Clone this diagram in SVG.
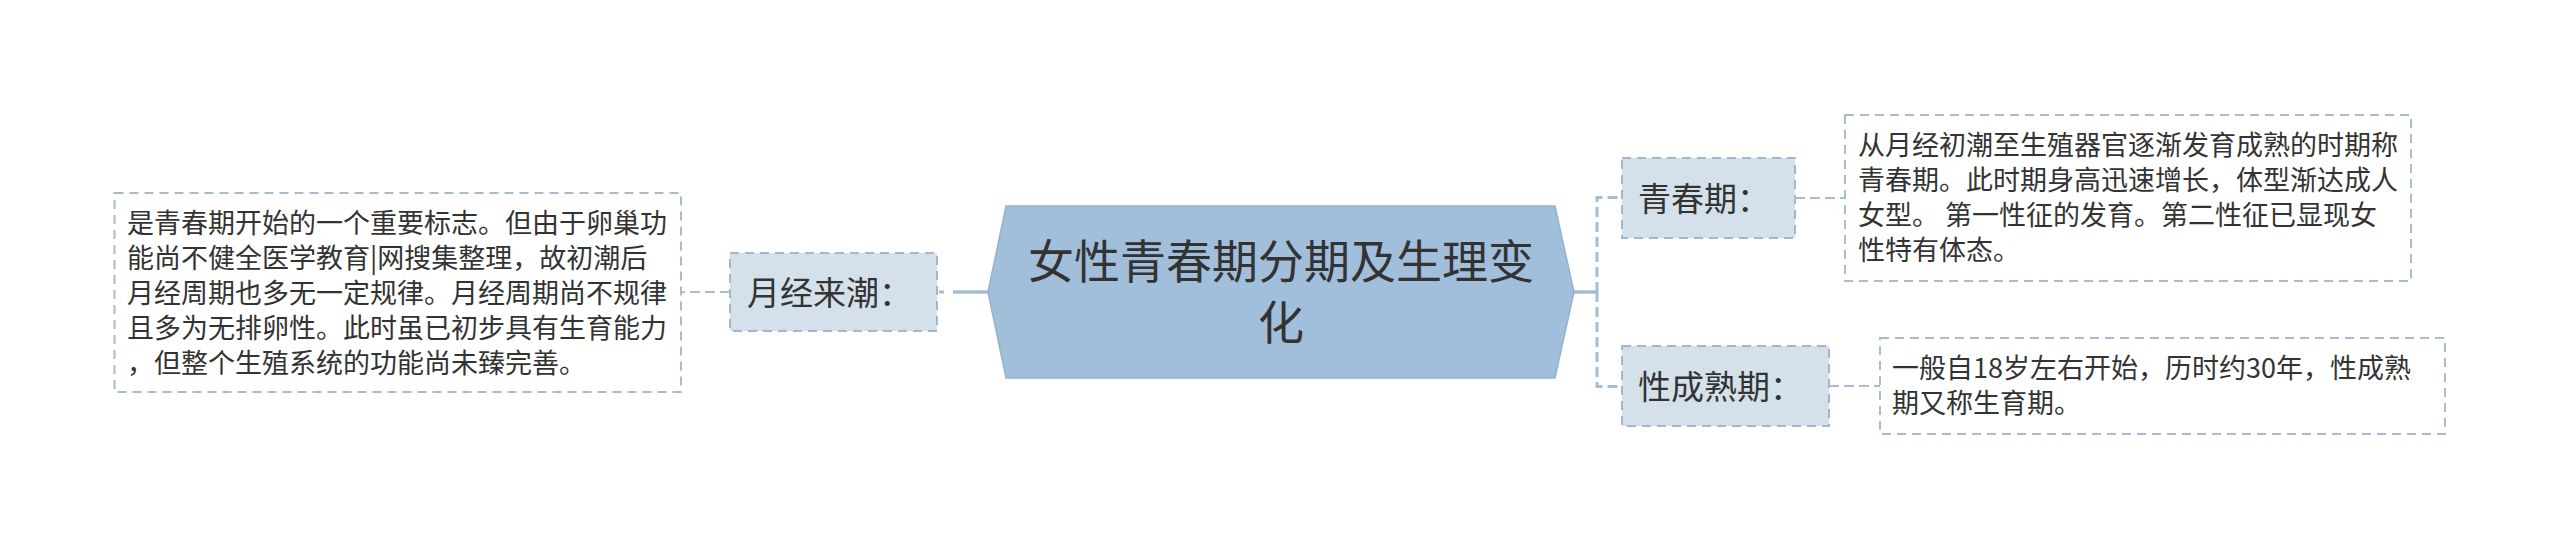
<svg xmlns="http://www.w3.org/2000/svg" width="2560" height="550" viewBox="0 0 2560 550">
<style>
.bg{fill:#ffffff}
.root{fill:#a1bedb;stroke:#95b2cf;stroke-width:1.5}
.l1{fill:#d4e1ea;stroke:#a0b7cd;stroke-width:2;stroke-dasharray:9 6}
.det{fill:#ffffff;stroke:#a6bcd0;stroke-width:2;stroke-dasharray:9 6}
.t{font-family:"Noto Sans CJK SC","Microsoft YaHei",sans-serif;fill:#333333}
.tr{font-size:46px;text-anchor:middle}
.t1{font-size:33px}
.td{font-size:27px}
.solid{fill:none;stroke:#a3bdd7;stroke-width:3.5}
.dash{fill:none;stroke:#a3bdd7;stroke-width:3;stroke-dasharray:10 5}
.dash2{fill:none;stroke:#a6bcd0;stroke-width:2;stroke-dasharray:10 5}
</style>
<rect class="bg" x="0" y="0" width="2560" height="550"/>
<g id="connectors">
<path class="solid" d="M988,292 H953"/>
<path class="dash" d="M953,292 H937" style="stroke-dasharray:0 9 5 10"/>
<path class="dash2" d="M730,292 H681"/>
<path class="solid" d="M1573,292 H1597"/>
<path class="dash" d="M1597,292 V197.5 H1622"/>
<path class="dash" d="M1597,292 V386.5 H1622"/>
<path class="dash2" d="M1795,198 H1845"/>
<path class="dash2" d="M1829,386 H1880"/>
</g>
<g id="root">
<polygon class="root" points="988,292 1006,206 1555,206 1574,292 1555,378 1006,378"/>
<text class="t tr" x="1281" y="278">女性青春期分期及生理变</text>
<text class="t tr" x="1281" y="339">化</text>
</g>
<g id="n-yuejing">
<rect class="l1" x="730" y="253" width="207" height="78"/>
<text class="t t1" x="747" y="305">月经来潮：</text>
</g>
<g id="n-yuejing-detail">
<rect class="det" x="114.5" y="193" width="566.5" height="199"/>
<text class="t td" x="127" y="233">是青春期开始的一个重要标志。但由于卵巢功</text>
<text class="t td" x="127" y="268">能尚不健全医学教育|网搜集整理，故初潮后</text>
<text class="t td" x="127" y="303">月经周期也多无一定规律。月经周期尚不规律</text>
<text class="t td" x="127" y="338">且多为无排卵性。此时虽已初步具有生育能力</text>
<text class="t td" x="127" y="373">，但整个生殖系统的功能尚未臻完善。</text>
</g>
<g id="n-qingchun">
<rect class="l1" x="1622" y="158" width="173" height="80"/>
<text class="t t1" x="1638" y="211">青春期：</text>
</g>
<g id="n-qingchun-detail">
<rect class="det" x="1845" y="115" width="566" height="166"/>
<text class="t td" x="1858" y="155">从月经初潮至生殖器官逐渐发育成熟的时期称</text>
<text class="t td" x="1858" y="190">青春期。此时期身高迅速增长，体型渐达成人</text>
<text class="t td" x="1858" y="225">女型。 第一性征的发育。第二性征已显现女</text>
<text class="t td" x="1858" y="260">性特有体态。</text>
</g>
<g id="n-xingchengshu">
<rect class="l1" x="1622" y="346" width="207" height="80"/>
<text class="t t1" x="1638" y="399">性成熟期：</text>
</g>
<g id="n-xingchengshu-detail">
<rect class="det" x="1880" y="338" width="565" height="96"/>
<text class="t td" x="1892" y="378">一般自18岁左右开始，历时约30年，性成熟</text>
<text class="t td" x="1892" y="413">期又称生育期。</text>
</g>
</svg>
